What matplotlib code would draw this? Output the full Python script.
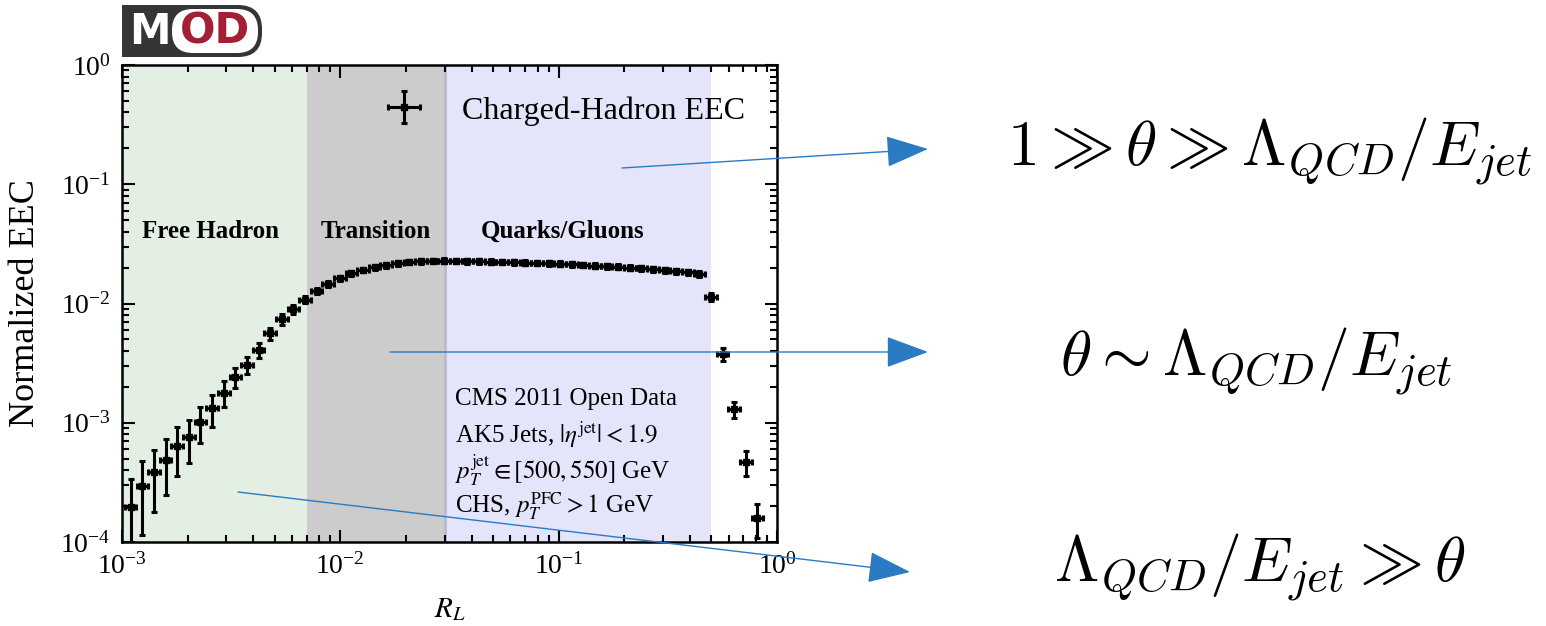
import matplotlib
import numpy as np

matplotlib.use("Agg")
import matplotlib.pyplot as plt
from matplotlib.patches import FancyArrowPatch, FancyBboxPatch, Rectangle

# Bin centres of the log-binned EEC (R_L) and the measured values
r_l = [
    0.001096, 0.001239, 0.001400, 0.001585, 0.001791, 0.002024, 0.002288,
    0.002586, 0.002923, 0.003304, 0.003733, 0.004219, 0.004768, 0.005389,
    0.006091, 0.006884, 0.007780, 0.008792, 0.009936, 0.01123, 0.01269,
    0.01434, 0.01621, 0.01832, 0.02070, 0.02340, 0.02645, 0.02989, 0.03378,
    0.03818, 0.04315, 0.04876, 0.05511, 0.06228, 0.07039, 0.07955, 0.08990,
    0.1016, 0.1148, 0.1298, 0.1467, 0.1658, 0.1873, 0.2117, 0.2393, 0.2704,
    0.3056, 0.3454, 0.3903, 0.4411, 0.4985, 0.5634, 0.6367, 0.7196, 0.8133,
]
eec = [
    1.95e-4, 2.95e-4, 3.84e-4, 4.87e-4, 6.38e-4, 7.55e-4, 1.02e-3,
    1.32e-3, 1.79e-3, 2.40e-3, 3.05e-3, 4.07e-3, 5.62e-3, 7.37e-3,
    8.93e-3, 1.08e-2, 1.28e-2, 1.46e-2, 1.63e-2, 1.79e-2, 1.91e-2,
    2.01e-2, 2.10e-2, 2.17e-2, 2.23e-2, 2.26e-2, 2.27e-2, 2.285e-2, 2.27e-2,
    2.263e-2, 2.254e-2, 2.246e-2, 2.237e-2, 2.22e-2, 2.203e-2, 2.186e-2, 2.169e-2,
    2.153e-2, 2.128e-2, 2.104e-2, 2.079e-2, 2.055e-2, 2.032e-2, 1.999e-2, 1.969e-2,
    1.935e-2, 1.902e-2, 1.866e-2, 1.823e-2, 1.768e-2, 1.134e-2, 3.77e-3,
    1.30e-3, 4.69e-4, 1.59e-4,
]
eec_err = [
    1.41e-4, 1.80e-4, 2.05e-4, 2.40e-4, 2.78e-4, 2.97e-4, 3.45e-4,
    3.90e-4, 4.35e-4, 4.6e-4, 4.8e-4, 5.6e-4, 6.5e-4, 7.2e-4,
    7.0e-4, 6.5e-4, 7.0e-4, 7.5e-4, 8.0e-4, 8.5e-4, 9.0e-4,
    9.5e-4, 1.0e-3, 1.0e-3, 1.0e-3, 1.0e-3, 1.0e-3, 1.0e-3, 1.0e-3,
    1.0e-3, 1.0e-3, 1.0e-3, 1.0e-3, 1.0e-3, 1.0e-3, 1.0e-3, 1.0e-3,
    1.0e-3, 1.0e-3, 1.0e-3, 1.0e-3, 9.5e-4, 9.5e-4, 9.5e-4, 9.0e-4,
    9.0e-4, 9.0e-4, 9.0e-4, 9.0e-4, 9.0e-4, 9.0e-4, 4.9e-4,
    2.0e-4, 1.1e-4, 5.0e-5,
]
BIN_HALF_WIDTH_DEX = 0.0266

# Regions: start, stop, colour, label, label position
region_start = [1e-3, 0.007, 0.030]
region_stop = [0.007, 0.030, 0.50]
region_colors = ["#e3efe3", "#cccccc", "#e4e4fa"]
region_labels = ["Free Hadron", "Transition", "Quarks/Gluons"]
region_label_x = [0.00253, 0.0146, 0.104]
REGION_LABEL_Y = 0.040

info_lines = [
    "CMS 2011 Open Data",
    r"AK5 Jets, $|\eta^{\mathrm{jet}}| < 1.9$",
    r"$p_T^{\mathrm{jet}} \in [500, 550]$ GeV",
    r"CHS, $p_T^{\mathrm{PFC}} > 1$ GeV",
]

regimes = [
    r"$1 \gg \theta \gg \Lambda_{QCD}/E_{jet}$",
    r"$\theta \sim \Lambda_{QCD}/E_{jet}$",
    r"$\Lambda_{QCD}/E_{jet} \gg \theta$",
]

plt.rcParams["font.family"] = ["Liberation Serif", "DejaVu Serif"]
plt.rcParams["mathtext.fontset"] = "stix"

W, H = 1546, 626
fig = plt.figure(figsize=(W / 100, H / 100), dpi=100)
ax = fig.add_axes([122 / W, 1 - 542 / H, 655 / W, 477 / H])

for start, stop, colour in zip(region_start, region_stop, region_colors):
    ax.axvspan(start, stop, color=colour, lw=0, zorder=0)
for label, lx in zip(region_labels, region_label_x):
    ax.text(lx, REGION_LABEL_Y, label, ha="center", va="center",
            fontsize=18, fontweight="bold")
ax.axvline(region_start[2], color="#b9b9d2", lw=2, zorder=0.5)

x = np.array(r_l)
xerr = [x - x * 10 ** -BIN_HALF_WIDTH_DEX, x * 10 ** BIN_HALF_WIDTH_DEX - x]
ax.errorbar(
    r_l, eec, xerr=xerr, yerr=eec_err,
    fmt="s", color="black", ms=3.8, elinewidth=2.2,
    capsize=2.5, capthick=2.2, label="Charged-Hadron EEC",
)

ax.set_xscale("log")
ax.set_yscale("log")
ax.set_xlim(1e-3, 1)
ax.set_ylim(1e-4, 1)
ax.set_xlabel(r"$R_L$", fontsize=21, labelpad=12)
ax.set_ylabel("Normalized EEC", fontsize=26)
ax.yaxis.set_label_coords(-0.122, 0.5)
ax.tick_params(which="both", direction="in", top=True, right=True,
               labelsize=20, width=1.5)
ax.tick_params(which="major", length=9, pad=8)
ax.tick_params(which="minor", length=5)
for spine in ax.spines.values():
    spine.set_linewidth(1.8)

ax.legend(loc="upper right", bbox_to_anchor=(0.995, 0.995), frameon=False,
          fontsize=23, handlelength=1.0, handletextpad=1.3)

for i, line in enumerate(info_lines):
    ax.text(0.508, 0.300 - i * 0.075, line, transform=ax.transAxes,
            ha="left", va="center", fontsize=18)

# overlay in pixel coordinates for logo, arrows and regime labels
ov = fig.add_axes([0, 0, 1, 1], zorder=5)
ov.set_xlim(0, W)
ov.set_ylim(H, 0)
ov.axis("off")

ov.add_patch(FancyBboxPatch((122, 5), 140, 52,
                            boxstyle="round,pad=0,rounding_size=24",
                            fc="#353535", ec="none"))
ov.add_patch(Rectangle((122, 5), 60, 52, fc="#353535", ec="none"))
ov.add_patch(FancyBboxPatch((172, 9), 86, 44,
                            boxstyle="round,pad=0,rounding_size=21",
                            fc="white", ec="none"))
ov.text(150, 32, "M", color="white", fontsize=30, fontweight="bold",
        family="DejaVu Sans", ha="center", va="center")
ov.text(215, 32, "OD", color="#a31f34", fontsize=30, fontweight="bold",
        family="DejaVu Sans", ha="center", va="center")

arrows = [((622, 168), (928, 149)), ((390, 352), (928, 352)),
          ((238, 492), (910, 572))]
for start, end in arrows:
    ov.add_patch(FancyArrowPatch(
        start, end, arrowstyle="-|>,head_length=2.7,head_width=1.0",
        mutation_scale=10, color="#2a7ac4", lw=1.0, shrinkA=0, shrinkB=0))

for ypix, xpix, text in zip([152, 362, 568], [1270, 1256, 1260], regimes):
    ov.text(xpix, ypix, text, ha="center", va="center", fontsize=46,
            math_fontfamily="cm")

fig.savefig("out.png", dpi=100)
